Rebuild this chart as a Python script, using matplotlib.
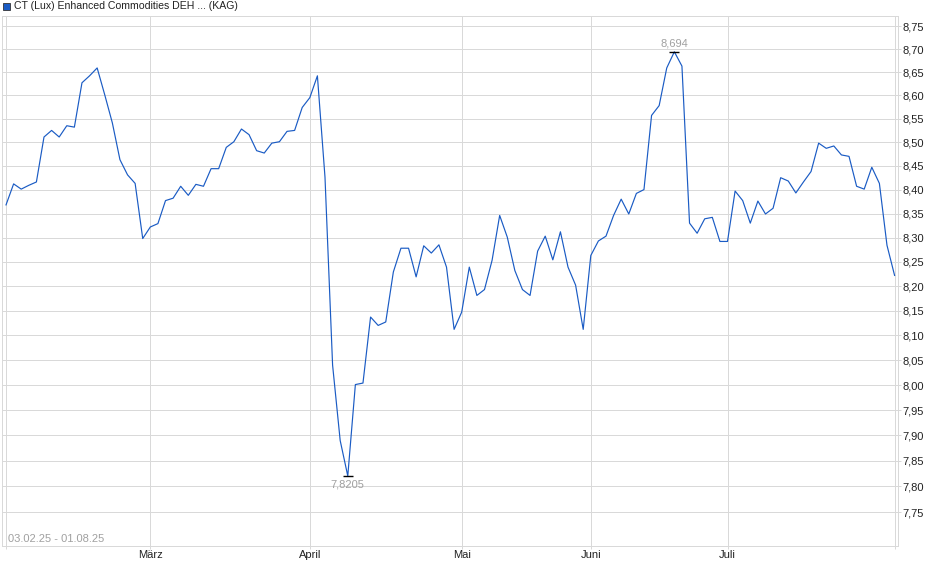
import numpy as np
import matplotlib
matplotlib.use("Agg")
import matplotlib.pyplot as plt
from matplotlib.ticker import FixedLocator, FuncFormatter, NullLocator
from matplotlib.patches import Rectangle

plt.rcParams['font.family'] = ['Liberation Sans', 'DejaVu Sans']

# Kurswerte (ein Punkt pro Handelstag, 03.02.25 - 01.08.25)
kurs = [
    8.368, 8.412, 8.401, 8.409, 8.416, 8.511, 8.525, 8.511, 8.535, 8.532,
    8.627, 8.642, 8.659, 8.601, 8.541, 8.463, 8.431, 8.413, 8.298, 8.322,
    8.329, 8.377, 8.382, 8.407, 8.388, 8.411, 8.407, 8.444, 8.444, 8.489,
    8.501, 8.528, 8.516, 8.482, 8.477, 8.498, 8.501, 8.523, 8.525, 8.574,
    8.595, 8.642, 8.426, 8.040, 7.890, 7.8205, 8.001, 8.004, 8.137, 8.120,
    8.127, 8.229, 8.278, 8.278, 8.219, 8.283, 8.268, 8.285, 8.239, 8.112,
    8.147, 8.239, 8.181, 8.193, 8.253, 8.346, 8.301, 8.232, 8.193, 8.181,
    8.272, 8.303, 8.254, 8.312, 8.239, 8.202, 8.112, 8.263, 8.293, 8.303,
    8.346, 8.380, 8.349, 8.392, 8.400, 8.557, 8.578, 8.659, 8.694, 8.663,
    8.330, 8.309, 8.339, 8.342, 8.292, 8.292, 8.397, 8.377, 8.330, 8.376,
    8.349, 8.361, 8.425, 8.418, 8.393, 8.416, 8.438, 8.498, 8.487, 8.492,
    8.473, 8.470, 8.407, 8.401, 8.447, 8.413, 8.284, 8.222,
]

# Monatsanfänge (Index des Handelstags) und Beschriftung
monat_pos = [19, 40, 60, 77, 95]
monat_namen = ["März", "April", "Mai", "Juni", "Juli"]

y_ticks = [7.75, 7.80, 7.85, 7.90, 7.95, 8.00, 8.05, 8.10, 8.15, 8.20, 8.25,
           8.30, 8.35, 8.40, 8.45, 8.50, 8.55, 8.60, 8.65, 8.70, 8.75]

titel = "CT (Lux) Enhanced Commodities DEH ... (KAG)"
zeitraum = "03.02.25 - 01.08.25"

blau = "#1a5bc4"
grau = "#d9d9d9"
px = 0.72  # 1 Pixel in Punkt

fig = plt.figure(figsize=(9.4, 5.79), dpi=100)
ax = fig.add_axes([2 / 940, 33 / 579, 896 / 940, 530 / 579])

x = np.arange(len(kurs))
ax.plot(x, kurs, color=blau, lw=0.85, zorder=3)

ax.set_yscale('log')
ax.set_xlim(-0.53, len(kurs) - 1 + 0.45)
ax.set_ylim(7.685, 8.772)

ax.yaxis.set_major_locator(FixedLocator(y_ticks))
ax.yaxis.set_minor_locator(NullLocator())
ax.yaxis.set_major_formatter(FuncFormatter(lambda v, p: f"{v:.2f}".replace('.', ',')))
ax.yaxis.tick_right()

ax.xaxis.set_major_locator(FixedLocator(monat_pos))
ax.xaxis.set_major_formatter(FuncFormatter(lambda v, p: monat_namen[monat_pos.index(int(round(v)))]))
ax.xaxis.set_minor_locator(FixedLocator([0, len(kurs) - 1]))

ax.tick_params(axis='both', which='both', labelsize=8, colors=grau,
               labelcolor='#222222', length=2.2, width=px)
ax.tick_params(axis='y', pad=1.2)
ax.tick_params(axis='x', pad=0.5)

ax.grid(True, which='both', color=grau, lw=px)
for s in ax.spines.values():
    s.set_color(grau)
    s.set_linewidth(px)

# Hoch / Tief markieren
i_max = int(np.argmax(kurs))
i_min = int(np.argmin(kurs))
ax.plot(i_max, kurs[i_max], marker='_', ms=7, mew=1, color='black', zorder=4)
ax.plot(i_min, kurs[i_min], marker='_', ms=7, mew=1, color='black', zorder=4)
ax.annotate(f"{kurs[i_max]:.3f}".replace('.', ','), (i_max, kurs[i_max]),
            xytext=(0, 2.5), textcoords='offset points', ha='center', va='bottom',
            fontsize=8, color='#a0a0a0')
ax.annotate(f"{kurs[i_min]:.4f}".replace('.', ','), (i_min, kurs[i_min]),
            xytext=(0, -2.5), textcoords='offset points', ha='center', va='top',
            fontsize=8, color='#a0a0a0')

ax.text(0.007, 0.013, zeitraum, transform=ax.transAxes, fontsize=8,
        color='#a0a0a0', ha='left', va='center')

# Legende oben links
fig.patches.append(Rectangle((3 / 940, 1 - 10 / 579), 7 / 940, 7 / 579,
                             transform=fig.transFigure, facecolor=blau,
                             edgecolor='#333333', lw=0.6))
fig.text(14 / 940, 1 - 6 / 579, titel, fontsize=7.6, color='#222222',
         ha='left', va='center')

fig.savefig("out.png", dpi=100)
